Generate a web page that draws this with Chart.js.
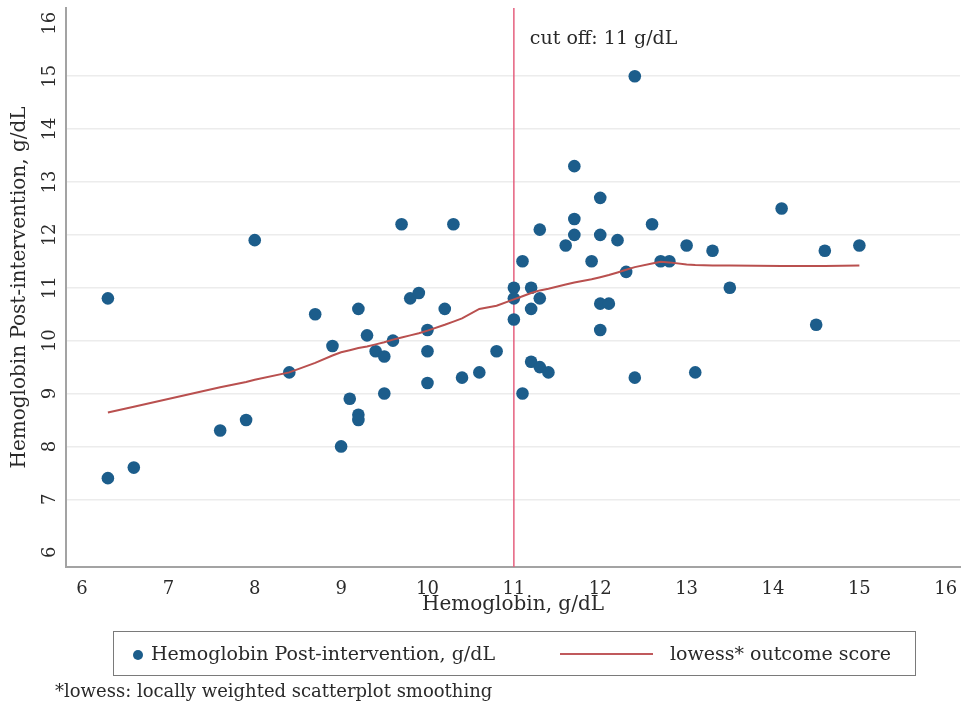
<!DOCTYPE html>
<html>
<head>
<meta charset="utf-8">
<script src="https://cdn.jsdelivr.net/npm/chart.js@4.4.1/dist/chart.umd.min.js"></script>
<style>
  body { margin: 0; background: #fff; }
  #wrap { position: relative; width: 962px; height: 708px; font-family: "DejaVu Serif", serif; color: #2a2a2a; }
  #legend { position: absolute; left: 113px; top: 631px; width: 801px; height: 43px; border: 1.5px solid #7a7a7a; font-size: 19px; }
  #legend .dot { position: absolute; left: 19px; top: 18px; width: 10px; height: 10px; border-radius: 50%; background: #1c5d8b; }
  #legend .t1 { position: absolute; left: 37px; top: 10px; white-space: nowrap; }
  #legend .ln { position: absolute; left: 446px; top: 21px; width: 93px; height: 2px; background: #c0595c; }
  #legend .t2 { position: absolute; left: 556px; top: 10px; white-space: nowrap; }
  #note { position: absolute; left: 55px; top: 680px; font-size: 18px; white-space: nowrap; }
</style>
</head>
<body>
<div id="wrap">
  <canvas id="myChart" width="962" height="708"></canvas>
  <div id="legend">
    <span class="dot"></span><span class="t1">Hemoglobin Post-intervention, g/dL</span>
    <span class="ln"></span><span class="t2">lowess* outcome score</span>
  </div>
  <div id="note">*lowess: locally weighted scatterplot smoothing</div>
</div>
<script>
// Hemoglobin before (x) and post-intervention (y), g/dL
const hbPre = [6.3, 6.3, 6.6, 7.6, 7.9, 8.0, 8.4, 8.7, 8.9, 9.0, 9.1, 9.2, 9.2, 9.2, 9.3, 9.4, 9.5, 9.5,
    9.6, 9.7, 9.8, 9.9, 10.0, 10.0, 10.0, 10.2, 10.3, 10.4, 10.6, 10.8, 11.0, 11.0, 11.0, 11.1, 11.1,
    11.2, 11.2, 11.2, 11.3, 11.3, 11.3, 11.4, 11.6, 11.7, 11.7, 11.7, 11.9, 12.0, 12.0, 12.0, 12.0,
    12.1, 12.2, 12.3, 12.4, 12.4, 12.6, 12.7, 12.8, 13.0, 13.1, 13.3, 13.5, 14.1, 14.5, 14.6, 15.0];
const hbPost = [10.8, 7.4, 7.6, 8.3, 8.5, 11.9, 9.4, 10.5, 9.9, 8.0, 8.9, 10.6, 8.6, 8.5, 10.1, 9.8, 9.7, 9.0,
    10.0, 12.2, 10.8, 10.9, 10.2, 9.8, 9.2, 10.6, 12.2, 9.3, 9.4, 9.8, 11.0, 10.8, 10.4, 11.5, 9.0,
    11.0, 10.6, 9.6, 12.1, 10.8, 9.5, 9.4, 11.8, 13.3, 12.3, 12.0, 11.5, 12.7, 12.0, 10.7, 10.2,
    10.7, 11.9, 11.3, 15.0, 9.3, 12.2, 11.5, 11.5, 11.8, 9.4, 11.7, 11.0, 12.5, 10.3, 11.7, 11.8];

// lowess curve
const lowessX = [6.3, 6.6, 7.6, 7.9, 8.0, 8.4, 8.7, 8.9, 9.0, 9.1, 9.2, 9.3, 9.4, 9.5, 9.6, 9.7, 9.8, 9.9,
    10.0, 10.2, 10.3, 10.4, 10.6, 10.8, 11.0, 11.1, 11.2, 11.3, 11.4, 11.6, 11.7, 11.9, 12.0, 12.1,
    12.2, 12.3, 12.4, 12.6, 12.7, 12.8, 13.0, 13.1, 13.3, 13.5, 14.1, 14.5, 14.6, 15.0];
const lowessY = [8.64, 8.75, 9.12, 9.22, 9.26, 9.40, 9.58, 9.72, 9.78, 9.82, 9.86, 9.89, 9.93, 9.97, 10.02,
    10.06, 10.10, 10.14, 10.19, 10.30, 10.36, 10.42, 10.60, 10.66, 10.78, 10.84, 10.90, 10.95, 10.98,
    11.06, 11.10, 11.16, 11.20, 11.24, 11.29, 11.34, 11.39, 11.46, 11.49, 11.48, 11.44, 11.43, 11.42,
    11.42, 11.41, 11.41, 11.41, 11.42];

const cutOff = 11;
const cutOffLabel = 'cut off: 11 g/dL';
const tickValues = [6, 7, 8, 9, 10, 11, 12, 13, 14, 15, 16];

const serif = '"DejaVu Serif", serif';
const textColor = '#2a2a2a';

// vertical cut-off line with its label
const cutOffPlugin = {
    id: 'cutOff',
    beforeDatasetsDraw(chart) {
        const ctx = chart.ctx;
        const area = chart.chartArea;
        const x = chart.scales.x.getPixelForValue(cutOff);
        ctx.save();
        ctx.strokeStyle = '#e5607f';
        ctx.lineWidth = 1.5;
        ctx.beginPath();
        ctx.moveTo(x, area.top);
        ctx.lineTo(x, area.bottom);
        ctx.stroke();
        ctx.fillStyle = textColor;
        ctx.font = '19px ' + serif;
        ctx.textBaseline = 'middle';
        ctx.fillText(cutOffLabel, x + 16, area.top + 31);
        ctx.restore();
    }
};

// tick labels drawn by hand: y ones rotated like the original
const tickLabelsPlugin = {
    id: 'tickLabels',
    afterDraw(chart) {
        const ctx = chart.ctx;
        const xs = chart.scales.x;
        const ys = chart.scales.y;
        ctx.save();
        ctx.fillStyle = textColor;
        ctx.font = '18px ' + serif;
        ctx.textAlign = 'center';
        ctx.textBaseline = 'middle';
        tickValues.forEach(v => {
            ctx.fillText(String(v), xs.getPixelForValue(v), chart.chartArea.bottom + 22);
            ctx.save();
            ctx.translate(50, ys.getPixelForValue(v));
            ctx.rotate(-Math.PI / 2);
            ctx.fillText(String(v), 0, 0);
            ctx.restore();
        });
        ctx.restore();
    }
};

const data = {
    datasets: [{
        type: 'line',
        label: 'lowess* outcome score',
        data: lowessX.map((x, i) => ({ x: x, y: lowessY[i] })),
        borderColor: '#b9504f',
        borderWidth: 2,
        pointRadius: 0,
        tension: 0,
        order: 0
    }, {
        type: 'scatter',
        label: 'Hemoglobin Post-intervention, g/dL',
        data: hbPre.map((x, i) => ({ x: x, y: hbPost[i] })),
        backgroundColor: '#1c5d8b',
        borderWidth: 0,
        pointRadius: 6.3,
        order: 1
    }]
};

const config = {
    type: 'scatter',
    data: data,
    options: {
        responsive: false,
        animation: false,
        layout: {
            autoPadding: false,
            padding: { left: 0, top: 8, right: 2, bottom: 88 }
        },
        plugins: {
            legend: { display: false },
            tooltip: { enabled: false }
        },
        scales: {
            x: {
                type: 'linear',
                min: 5.815,
                max: 16.165,
                afterBuildTicks(scale) {
                    scale.ticks = tickValues.map(v => ({ value: v }));
                },
                afterFit(scale) { scale.height = 53; },
                grid: { display: false, drawTicks: false },
                border: { color: '#a3a3a3', width: 2 },
                ticks: { display: false },
                title: {
                    display: true,
                    text: 'Hemoglobin, g/dL',
                    color: textColor,
                    font: { family: serif, size: 20 },
                    padding: { top: 0, bottom: 3 }
                }
            },
            y: {
                type: 'linear',
                min: 5.72,
                max: 16.29,
                afterBuildTicks(scale) {
                    scale.ticks = tickValues.map(v => ({ value: v }));
                },
                afterFit(scale) { scale.width = 66; },
                grid: {
                    drawTicks: false,
                    lineWidth: 1.5,
                    color: c => (c.tick && c.tick.value > 6 && c.tick.value < 16) ? '#ececec' : 'rgba(0,0,0,0)'
                },
                border: { color: '#a3a3a3', width: 2 },
                ticks: { display: false },
                title: {
                    display: true,
                    text: 'Hemoglobin Post-intervention, g/dL',
                    color: textColor,
                    font: { family: serif, size: 20 },
                    padding: { top: 8, bottom: 0 }
                }
            }
        }
    },
    plugins: [cutOffPlugin, tickLabelsPlugin]
};

const myChart = new Chart(document.getElementById('myChart'), config);
</script>
</body>
</html>
